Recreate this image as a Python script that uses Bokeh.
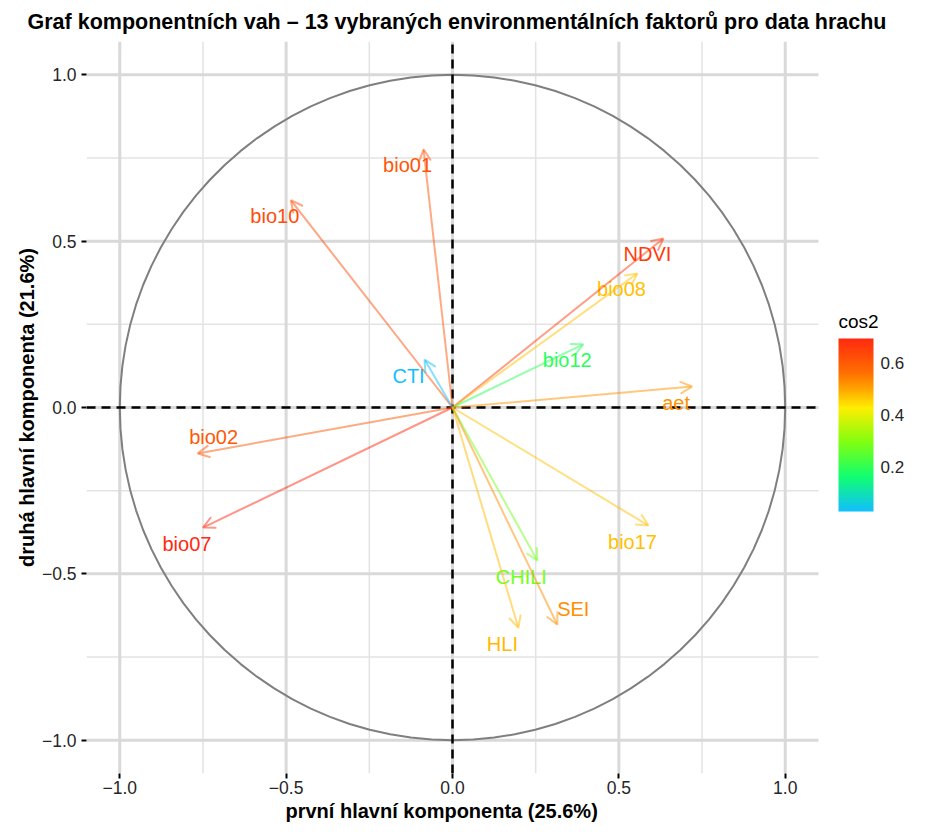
import numpy as np
from bokeh.plotting import figure
from bokeh.layouts import row
from bokeh.models import (ColumnDataSource, Arrow, OpenHead, ColorBar, Spacer, Title,
                          LinearColorMapper, FixedTicker, CustomJSTickFormatter)
from bokeh.core.properties import value
from bokeh.embed import file_html
from bokeh.resources import INLINE

# ---- data ----
variables = ["bio01", "bio10", "NDVI", "bio08", "bio12", "aet", "bio02",
             "bio07", "CTI", "bio17", "CHILI", "SEI", "HLI"]
pc1 = [-0.087, -0.486, 0.634, 0.556, 0.393, 0.720, -0.766,
       -0.750, -0.084, 0.589, 0.255, 0.315, 0.198]
pc2 = [0.776, 0.623, 0.508, 0.403, 0.190, 0.063, -0.138,
       -0.361, 0.144, -0.355, -0.460, -0.653, -0.662]
label_side = ["bl", "bl", "bl", "bl", "bl", "bl", "ur",
              "bl", "bl", "bl", "bl", "ur", "bl"]
axis_ticks = [-1.0, -0.5, 0.0, 0.5, 1.0]
minor_ticks = [-0.75, -0.25, 0.25, 0.75]
legend_ticks = [0.2, 0.4, 0.6]
legend_title = "cos2"
title_text = "Graf komponentních vah – 13 vybraných environmentálních faktorů pro data hrachu"
xlab = "první hlavní komponenta (25.6%)"
ylab = "druhá hlavní komponenta (21.6%)"

FONT = "Liberation Sans"
# gradient stops (fraction of cos2 range, colour)
stop_pos = [0.0, 0.2, 0.4, 0.6, 0.7, 0.8, 1.0]
stop_col = ["#10BFFF", "#10FF70", "#80FF10", "#FFEE00", "#FFAA00", "#FF7000", "#FF2A10"]

def hex2rgb(h):
    return tuple(int(h[i:i + 2], 16) for i in (1, 3, 5))

def interp(t):
    t = min(max(t, 0.0), 1.0)
    for i in range(len(stop_pos) - 1):
        if t <= stop_pos[i + 1]:
            break
    f = (t - stop_pos[i]) / (stop_pos[i + 1] - stop_pos[i])
    a, b = hex2rgb(stop_col[i]), hex2rgb(stop_col[i + 1])
    return "#%02x%02x%02x" % tuple(int(round(a[k] + (b[k] - a[k]) * f)) for k in range(3))

palette = [interp(i / 255) for i in range(256)]

cos2 = [x * x + y * y for x, y in zip(pc1, pc2)]
lo, hi = min(cos2), max(cos2)
colors = [interp((c - lo) / (hi - lo)) for c in cos2]
dx = [-16 if s == "bl" else 16 for s in label_side]
dy = [16 if s == "bl" else -16 for s in label_side]

src = ColumnDataSource(dict(x0=[0.0] * len(pc1), y0=[0.0] * len(pc1), x=pc1, y=pc2,
                            name=variables, color=colors, dx=dx, dy=dy))

# ---------------- geometry ----------------
LIM = 1.1                 # panel limits of the loadings plot
FH = 732                  # panel height (px)
FW = 820                  # frame width incl. legend area (px)
PX = FH / (2 * LIM)       # px per unit
x_end = -LIM + FW / PX

p = figure(frame_width=FW, frame_height=FH, x_range=(-LIM, x_end), y_range=(-LIM, LIM),
           output_backend="svg", toolbar_location=None,
           min_border_left=0, min_border_top=0, min_border_bottom=0, min_border_right=0)
p.outline_line_color = None
p.background_fill_color = "white"
p.border_fill_color = "white"
p.grid.visible = False

p.title.text = title_text
p.title.align = "left"
p.title.offset = -59
p.title.text_font = FONT
p.title.text_font_size = "21.5px"
p.title.text_font_style = "bold"
p.title.text_color = "black"
p.title.standoff = 15

ticker = FixedTicker(ticks=axis_ticks, minor_ticks=minor_ticks)
fmt = CustomJSTickFormatter(code="return (tick < 0 ? '\u2212' : '') + Math.abs(tick).toFixed(1);")
for ax in (p.xaxis[0], p.yaxis[0]):
    ax.ticker = ticker
    ax.formatter = fmt
    ax.major_label_text_font = FONT
    ax.major_label_text_font_size = "17.5px"
    ax.major_label_text_color = "#262626"
    ax.major_label_standoff = 5
    ax.axis_line_color = None
    ax.major_tick_line_color = "black"
    ax.major_tick_line_width = 2
    ax.major_tick_out = 5
    ax.major_tick_in = 0
    ax.minor_tick_line_color = None
p.xaxis[0].major_label_standoff = 2
p.yaxis[0].axis_label = ylab
p.yaxis[0].axis_label_text_font = FONT
p.yaxis[0].axis_label_text_font_size = "20px"
p.yaxis[0].axis_label_text_font_style = "bold"
p.yaxis[0].axis_label_text_color = "black"
p.yaxis[0].axis_label_standoff = 1

p.add_layout(Title(text=xlab, align="left", offset=199, standoff=2,
                   text_font=FONT, text_font_size="20px", text_font_style="bold",
                   text_color="black"), "below")

# grid lines (only over the loadings panel)
n_maj, n_min = len(axis_ticks), len(minor_ticks)
p.segment(x0=minor_ticks, y0=[-LIM] * n_min, x1=minor_ticks, y1=[LIM] * n_min,
          line_color="#e3e3e3", line_width=1.5)
p.segment(x0=[-LIM] * n_min, y0=minor_ticks, x1=[LIM] * n_min, y1=minor_ticks,
          line_color="#e3e3e3", line_width=1.5)
p.segment(x0=axis_ticks, y0=[-LIM] * n_maj, x1=axis_ticks, y1=[LIM] * n_maj,
          line_color="#d9d9d9", line_width=3)
p.segment(x0=[-LIM] * n_maj, y0=axis_ticks, x1=[LIM] * n_maj, y1=axis_ticks,
          line_color="#d9d9d9", line_width=3)

# correlation circle
theta = np.linspace(0, 2 * np.pi, 101)
p.line(np.cos(theta), np.sin(theta), line_color="#7f7f7f", line_width=2)

# reference lines through the origin
p.segment(x0=[-LIM, 0], y0=[0, -LIM], x1=[LIM, 0], y1=[0, LIM],
          line_color="black", line_width=2.5, line_dash="9 6")

# arrows
p.add_layout(Arrow(source=src, x_start="x0", y_start="y0", x_end="x", y_end="y",
                   line_color="color", line_alpha=0.5, line_width=2,
                   end=OpenHead(size=12, line_color="color", line_alpha=0.5, line_width=2)))

p.text(x="x", y="y", text="name", source=src, text_color="color",
       x_offset="dx", y_offset="dy", text_align="center", text_baseline="middle",
       text_font=value(FONT), text_font_size="20px")

# ---------------- colour legend (px offsets from the frame's lower-left) ----------------
bar_left, bar_bottom, bar_h, bar_w = 752, 262, 173, 35

def lx(px):
    return -LIM + px / PX

def ly(px):
    return -LIM + px / PX

p.text(x=[lx(bar_left)], y=[ly(bar_bottom + bar_h + 17)],
       text=[legend_title], text_font=value(FONT), text_font_size="19px",
       text_color="black", text_baseline="alphabetic", text_align="left")

mapper = LinearColorMapper(palette=palette, low=lo, high=hi)
cb = ColorBar(color_mapper=mapper, title=None, width=bar_w, height=bar_h,
              ticker=FixedTicker(ticks=legend_ticks),
              major_label_text_alpha=0, major_label_text_font_size="1px",
              major_tick_line_color=None, minor_tick_line_color=None,
              bar_line_color=None, label_standoff=0, padding=0, margin=0,
              location=(bar_left, bar_bottom),
              background_fill_color=None, border_line_color=None)
p.add_layout(cb, "center")

# legend ticks and labels, positioned through the same linear mapping as the bar
tick_px = [bar_bottom + (t - lo) / (hi - lo) * bar_h for t in legend_ticks]
tick_y = [ly(v) for v in tick_px]
nt = len(legend_ticks)
p.segment(x0=[lx(bar_left)] * nt, y0=tick_y, x1=[lx(bar_left + 7)] * nt, y1=tick_y,
          line_color="white", line_width=1.5)
p.segment(x0=[lx(bar_left + bar_w - 7)] * nt, y0=tick_y, x1=[lx(bar_left + bar_w)] * nt,
          y1=tick_y, line_color="white", line_width=1.5)
p.text(x=[lx(bar_left + bar_w + 7)] * nt, y=tick_y, text=["%.1f" % t for t in legend_ticks],
       text_font=value(FONT), text_font_size="17px", text_color="#262626",
       text_baseline="middle", text_align="left")

layout = row(Spacer(width=12), p)
open("out.html", "w").write(file_html(layout, INLINE))
